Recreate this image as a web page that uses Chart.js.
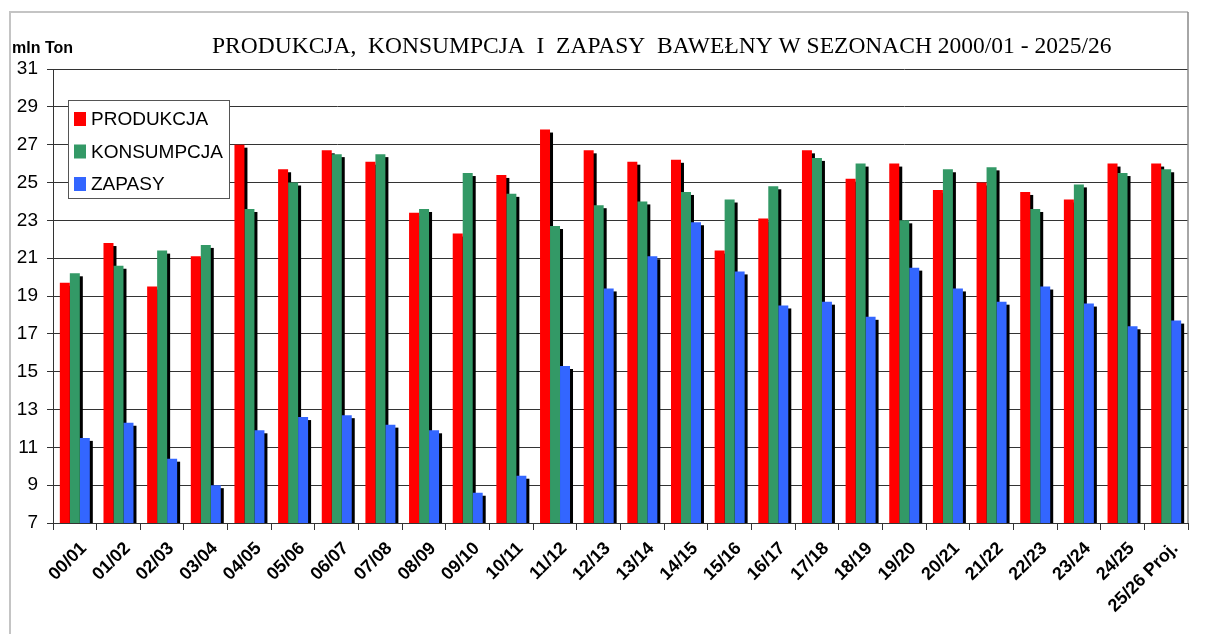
<!DOCTYPE html>
<html>
<head>
<meta charset="utf-8">
<script src="https://cdn.jsdelivr.net/npm/chart.js@4.4.0/dist/chart.umd.min.js"></script>
<style>
  html, body { margin: 0; padding: 0; background: #fff; }
  #wrap { width: 1209px; height: 634px; position: relative; }
</style>
</head>
<body>
<div id="wrap"><canvas id="myChart" width="1209" height="634"></canvas></div>
<script>
const seasons = ["00/01", "01/02", "02/03", "03/04", "04/05", "05/06", "06/07", "07/08", "08/09", "09/10",
  "10/11", "11/12", "12/13", "13/14", "14/15", "15/16", "16/17", "17/18", "18/19", "19/20",
  "20/21", "21/22", "22/23", "23/24", "24/25", "25/26 Proj."];
const produkcja = [19.7, 21.8, 19.5, 21.1, 27.0, 25.7, 26.7, 26.1, 23.4, 22.3,
  25.4, 27.8, 26.7, 26.1, 26.2, 21.4, 23.1, 26.7, 25.2, 26.0,
  24.6, 25.0, 24.5, 24.1, 26.0, 26.0];
const konsumpcja = [20.2, 20.6, 21.4, 21.7, 23.6, 25.0, 26.5, 26.5, 23.6, 25.5,
  24.4, 22.7, 23.8, 24.0, 24.5, 24.1, 24.8, 26.3, 26.0, 23.0,
  25.7, 25.8, 23.6, 24.9, 25.5, 25.7];
const zapasy = [11.5, 12.3, 10.4, 9.0, 11.9, 12.6, 12.7, 12.2, 11.9, 8.6,
  9.5, 15.3, 19.4, 21.1, 22.9, 20.3, 18.5, 18.7, 17.9, 20.5,
  19.4, 18.7, 19.5, 18.6, 17.4, 17.7];
const yMin = 7, yMax = 31, yStep = 2;
const seriesNames = ["PRODUKCJA", "KONSUMPCJA", "ZAPASY"];
const seriesColors = ["#ff0000", "#339966", "#3366ff"];

const titleText = "PRODUKCJA,  KONSUMPCJA  I  ZAPASY  BAWEŁNY W SEZONACH 2000/01 - 2025/26";

// black drop shadow behind every bar, frame, title, unit and legend box
const extras = {
  id: 'extras',
  beforeDatasetsDraw(chart) {
    const ctx = chart.ctx, a = chart.chartArea;
    ctx.save();
    ctx.beginPath();
    ctx.rect(a.left, a.top, a.right - a.left, a.bottom - a.top);
    ctx.clip();
    ctx.fillStyle = '#000';
    chart.data.datasets.forEach(function(ds, i) {
      chart.getDatasetMeta(i).data.forEach(function(bar) {
        const left = bar.x - bar.width / 2 + 3;
        const top = bar.y + 3;
        ctx.fillRect(left, top, bar.width, bar.base - top);
      });
    });
    ctx.restore();
  },
  afterDraw(chart) {
    const ctx = chart.ctx, a = chart.chartArea;
    ctx.save();
    // outer frame
    ctx.strokeStyle = '#c4c4c4';
    ctx.lineWidth = 2;
    ctx.beginPath();
    ctx.moveTo(10, 634);
    ctx.lineTo(10, 12);
    ctx.lineTo(a.right, 12);
    ctx.stroke();
    ctx.strokeStyle = '#888';
    ctx.lineWidth = 1.5;
    ctx.beginPath();
    ctx.moveTo(a.right, 12);
    ctx.lineTo(a.right, a.bottom);
    ctx.stroke();

    // title + unit
    ctx.fillStyle = '#000';
    ctx.textBaseline = 'alphabetic';
    ctx.textAlign = 'left';
    ctx.font = '23.5px "Liberation Serif", "Times New Roman", serif';
    ctx.fillText(titleText, 212, 53);
    ctx.font = 'bold 16px Arial, "Liberation Sans", sans-serif';
    ctx.fillText('mln Ton', 12, 53);

    // legend
    const lx = 68, ly = 100, lw = 161, lh = 98;
    ctx.fillStyle = '#fff';
    ctx.fillRect(lx, ly, lw, lh);
    ctx.strokeStyle = '#555';
    ctx.lineWidth = 1;
    ctx.strokeRect(lx + 0.5, ly + 0.5, lw, lh);
    ctx.font = '19px Arial, "Liberation Sans", sans-serif';
    ctx.textBaseline = 'middle';
    chart.data.datasets.forEach(function(ds, i) {
      const cy = 119 + i * 32.5;
      ctx.fillStyle = ds.backgroundColor;
      ctx.fillRect(74, cy - 7, 12, 14);
      ctx.fillStyle = '#000';
      ctx.fillText(ds.label, 91, cy + 1);
    });
    ctx.restore();
  }
};

new Chart("myChart", {
  type: "bar",
  data: {
    labels: seasons,
    datasets: [
      { label: seriesNames[0], data: produkcja, backgroundColor: seriesColors[0] },
      { label: seriesNames[1], data: konsumpcja, backgroundColor: seriesColors[1] },
      { label: seriesNames[2], data: zapasy, backgroundColor: seriesColors[2] }
    ]
  },
  options: {
    responsive: false,
    animation: false,
    devicePixelRatio: 1,
    layout: { padding: { top: 69, right: 21, left: 0, bottom: 0 } },
    datasets: { bar: { categoryPercentage: 0.687, barPercentage: 1.0, borderWidth: 0 } },
    plugins: {
      legend: { display: false },
      title: { display: false },
      tooltip: { enabled: false }
    },
    scales: {
      x: {
        afterFit: function(scale) { scale.height = 111; },
        grid: { drawOnChartArea: false, drawTicks: true, tickLength: 7, color: '#333', offset: true },
        border: { color: '#333', width: 1 },
        ticks: {
          minRotation: 45, maxRotation: 45, autoSkip: false,
          color: '#000', padding: 8, labelOffset: 9,
          font: { family: 'Arial', size: 18, weight: 'bold' }
        }
      },
      y: {
        min: yMin, max: yMax,
        afterFit: function(scale) { scale.width = 53; },
        grid: { color: '#333', lineWidth: 1, tickLength: 6 },
        border: { color: '#333', width: 1 },
        ticks: {
          stepSize: yStep, color: '#000', padding: 9,
          font: { family: 'Arial', size: 19 }
        }
      }
    }
  },
  plugins: [extras]
});
</script>
</body>
</html>
